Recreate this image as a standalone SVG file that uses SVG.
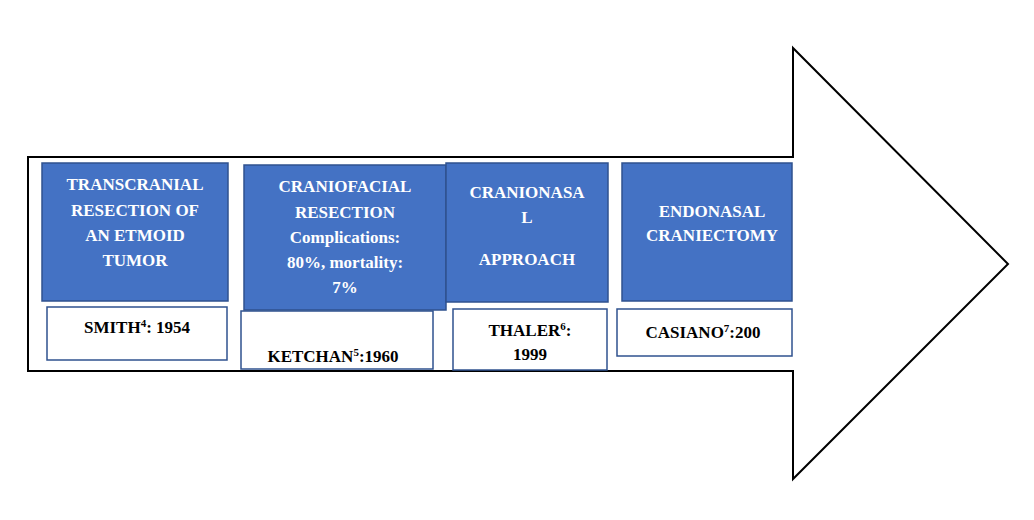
<svg xmlns="http://www.w3.org/2000/svg" width="1034" height="520" viewBox="0 0 1034 520">
<style>
.b{fill:#4472C4;stroke:#2F528F;stroke-width:1.5}
.w{fill:#fff;stroke:#2F528F;stroke-width:1.5}
.t{font-family:"Liberation Serif",serif;font-weight:bold;font-size:17px;text-anchor:middle;fill:#fff}
.k{font-family:"Liberation Serif",serif;font-weight:bold;font-size:17px;text-anchor:middle;fill:#000}
.s{font-size:11px}
</style>
<rect width="1034" height="520" fill="#fff"/>
<g id="connectors">
<path d="M28,157 H793 V48 L1008,264 L793,479 V371 H28 Z" fill="#fff" stroke="#000" stroke-width="2"/>
</g>
<g id="n1"><rect class="b" x="42" y="163" width="186" height="138"/>
<text class="t"><tspan x="135" y="190">TRANSCRANIAL</tspan><tspan x="135" y="216">RESECTION OF</tspan><tspan x="135" y="241">AN ETMOID</tspan><tspan x="135" y="266">TUMOR</tspan></text></g>
<g id="n2"><rect class="b" x="244" y="165" width="202" height="145"/>
<text class="t"><tspan x="345" y="192">CRANIOFACIAL</tspan><tspan x="345" y="218">RESECTION</tspan><tspan x="345" y="243">Complications:</tspan><tspan x="345" y="268">80%, mortality:</tspan><tspan x="345" y="293">7%</tspan></text></g>
<g id="n3"><rect class="b" x="446" y="163" width="162" height="139"/>
<text class="t"><tspan x="527" y="198">CRANIONASA</tspan><tspan x="527" y="223">L</tspan><tspan x="527" y="265">APPROACH</tspan></text></g>
<g id="n4"><rect class="b" x="622" y="163" width="170" height="138"/>
<text class="t"><tspan x="712" y="217">ENDONASAL</tspan><tspan x="712" y="241">CRANIECTOMY</tspan></text></g>
<g id="l1"><rect class="w" x="47" y="307" width="180" height="53"/>
<text class="k" x="137" y="333">SMITH<tspan class="s" dy="-6">4</tspan><tspan dy="6">: 1954</tspan></text></g>
<g id="l2"><rect class="w" x="241" y="311" width="192" height="58"/>
<text class="k" x="333" y="362">KETCHAN<tspan class="s" dy="-6">5</tspan><tspan dy="6">:1960</tspan></text></g>
<g id="l3"><rect class="w" x="453" y="309" width="154" height="61"/>
<text class="k" x="530" y="336">THALER<tspan class="s" dy="-6">6</tspan><tspan dy="6">:</tspan></text>
<text class="k" x="530" y="360">1999</text></g>
<g id="l4"><rect class="w" x="617" y="309" width="175" height="47"/>
<text class="k" x="703" y="338">CASIANO<tspan class="s" dy="-6">7</tspan><tspan dy="6">:200</tspan></text></g>
</svg>
